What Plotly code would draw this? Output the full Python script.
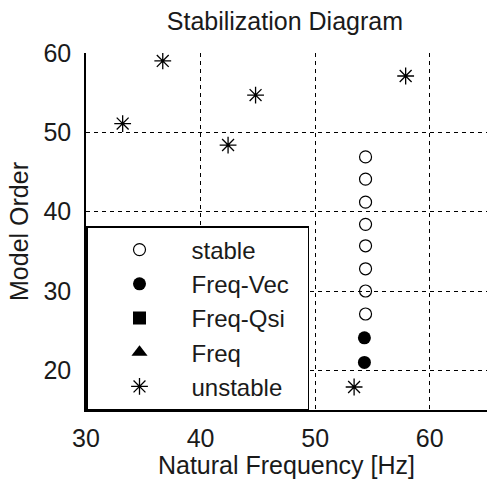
import plotly.graph_objects as go

# Data
stable_freq = [54.4, 54.4, 54.4, 54.4, 54.4, 54.4, 54.4, 54.4]
stable_order = [27.1, 30.0, 32.8, 35.7, 38.4, 41.2, 44.1, 46.9]
freqvec_freq = [54.3, 54.3]
freqvec_order = [21.0, 24.1]
freqqsi_freq = [None]
freqqsi_order = [None]
freq_freq = [None]
freq_order = [None]
unstable_freq = [53.4, 33.2, 36.7, 42.4, 44.8, 57.9]
unstable_order = [17.9, 51.1, 59.0, 48.4, 54.7, 57.1]

x_ticks = [30, 40, 50, 60]
y_ticks = [20, 30, 40, 50, 60]

FONT = "Liberation Sans, Arial, sans-serif"
TXT = "#1a1a1a"
PAD = "\u00a0\u00a0"  # widens the legend box to match the reference

fig = go.Figure()
fig.add_trace(go.Scatter(x=stable_freq, y=stable_order, mode="markers", name="stable",
                         marker=dict(symbol="circle-open", size=12, color="black", line=dict(width=1.2, color="black"))))
fig.add_trace(go.Scatter(x=freqvec_freq, y=freqvec_order, mode="markers", name="Freq-Vec" + PAD,
                         marker=dict(symbol="circle", size=13, color="black")))
fig.add_trace(go.Scatter(x=freqqsi_freq, y=freqqsi_order, mode="markers", name="Freq-Qsi",
                         marker=dict(symbol="square", size=13, color="black")))
fig.add_trace(go.Scatter(x=freq_freq, y=freq_order, mode="markers", name="Freq",
                         marker=dict(symbol="triangle-up", size=14, color="black")))
fig.add_trace(go.Scatter(x=unstable_freq, y=unstable_order, mode="markers", name="unstable",
                         marker=dict(symbol="asterisk-open", size=14, color="black", line=dict(width=1.3, color="black"))))

axis_common = dict(
    showline=True, linecolor="black", linewidth=1.5,
    showgrid=True, gridcolor="black", gridwidth=1, griddash="4px,4px",
    zeroline=False, ticks="", tickfont=dict(size=25, color=TXT),
    mirror=False,
)

fig.update_layout(
    width=487, height=479,
    margin=dict(l=86, r=0, t=53, b=69),
    paper_bgcolor="white", plot_bgcolor="white",
    font=dict(family=FONT, color=TXT),
    title=dict(text="Stabilization Diagram", x=0.585, xanchor="center", y=0.955, yanchor="middle",
               font=dict(size=25, color=TXT)),
    showlegend=True,
    legend=dict(x=0, xanchor="left", y=0, yanchor="bottom", bgcolor="white",
                bordercolor="black", borderwidth=1.5, font=dict(size=24, color=TXT),
                itemwidth=94, traceorder="normal"),
)
fig.update_xaxes(range=[30, 65], tickvals=x_ticks, ticklabelstandoff=5,
                 title=dict(text="Natural Frequency [Hz]", font=dict(size=25, color=TXT), standoff=6),
                 **axis_common)
fig.update_yaxes(range=[15, 60], tickvals=y_ticks, ticklabelstandoff=8,
                 title=dict(text="Model Order", font=dict(size=25, color=TXT), standoff=8),
                 **axis_common)

fig.write_html("out.html")
